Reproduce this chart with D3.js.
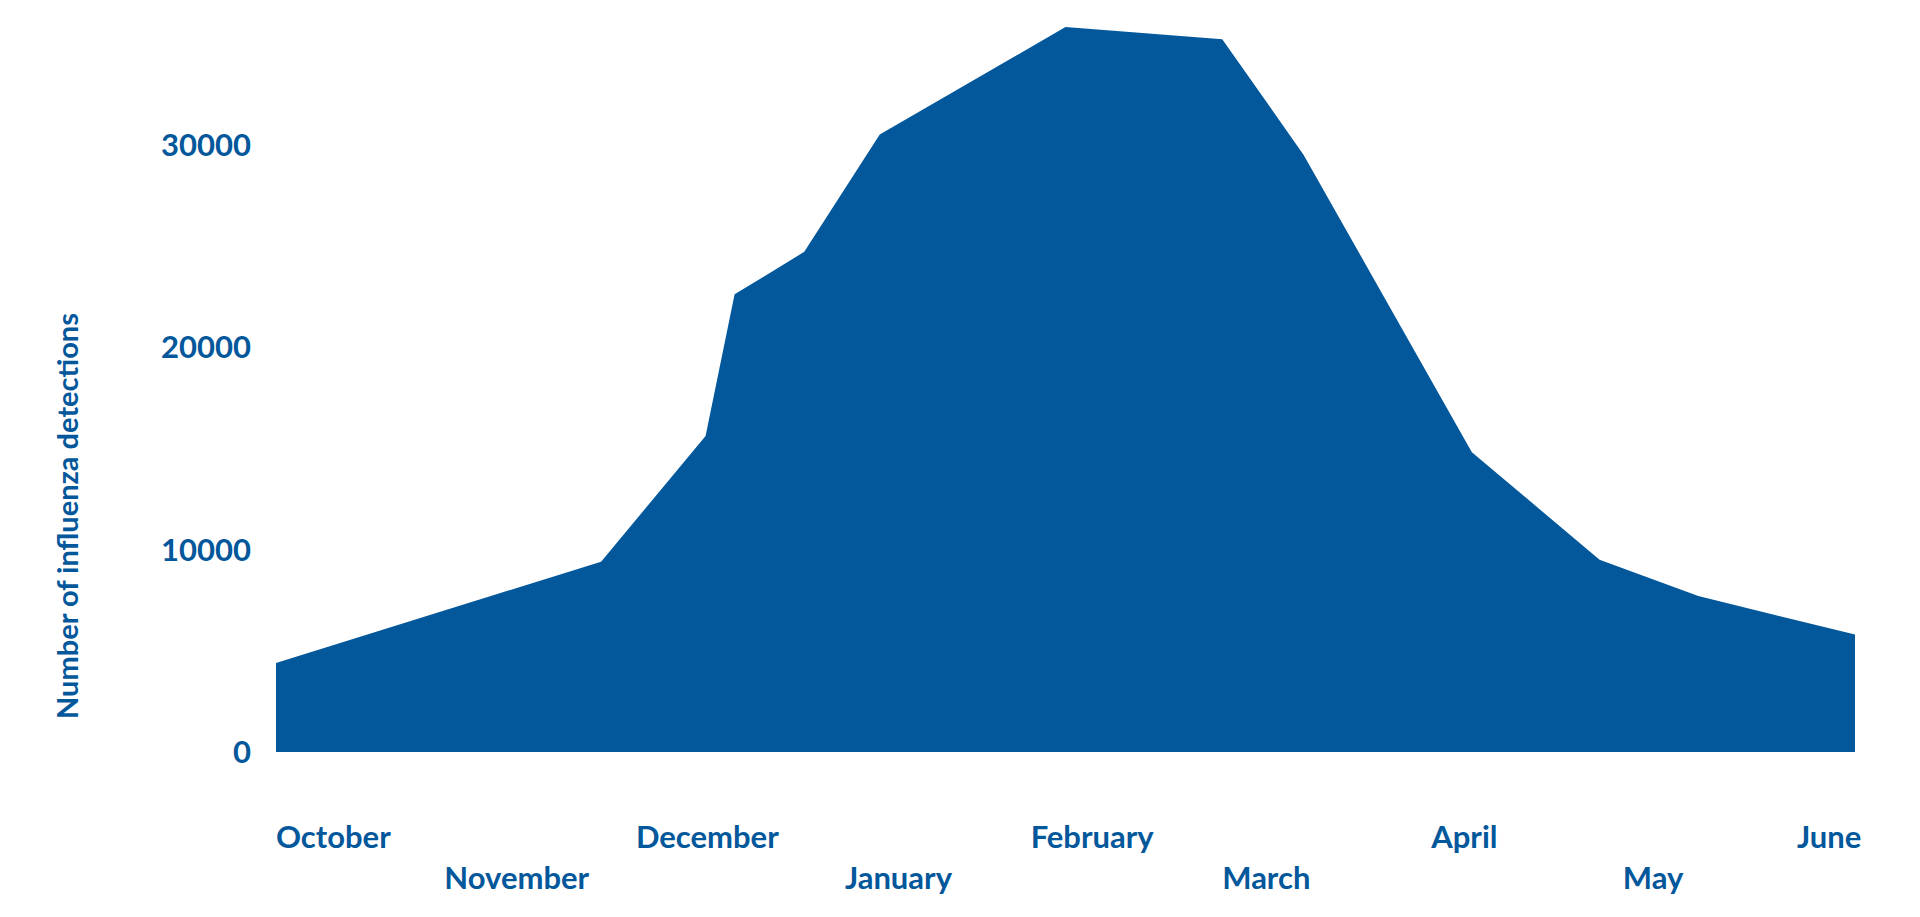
<!DOCTYPE html>
<html>
<head>
<meta charset="utf-8">
<script src="https://cdn.jsdelivr.net/npm/d3@7"></script>
<style>
  body { margin: 0; background: #fff; }
  text { font-family: Lato, "Open Sans", sans-serif; font-weight: 700; fill: #03579b; }
</style>
</head>
<body>
<svg id="chart" width="1920" height="917"></svg>
<script>
// days since 1 October, and detections
const days = [0, 56, 74, 79, 91, 104, 136, 163, 177, 206, 228, 245, 272];
const detections = [4400, 9400, 15600, 22600, 24700, 30500, 35800, 35200, 29500, 14800, 9500, 7700, 5800];

const months = ["October", "November", "December", "January", "February", "March", "April", "May", "June"];
const monthDays = [0, 29, 62, 98, 130, 163, 199, 232, 262];
const yTicks = [0, 10000, 20000, 30000];

const color = "#03579b";
const svg = d3.select("#chart");

const x = d3.scaleLinear().domain([0, 272]).range([276, 1855]);
const y = d3.scaleLinear().domain([0, 36000]).range([752, 23]);

const points = days.map((d, i) => ({ day: d, value: detections[i] }));

const area = d3.area()
  .x((d) => x(d.day))
  .y0(y(0))
  .y1((d) => y(d.value));

svg.append("path")
  .datum(points)
  .attr("fill", color)
  .attr("d", area);

// y axis labels
svg.append("g")
  .selectAll("text")
  .data(yTicks)
  .join("text")
  .attr("x", 251)
  .attr("y", (d) => y(d))
  .attr("dy", "0.36em")
  .attr("text-anchor", "end")
  .attr("font-size", 31)
  .text((d) => d);

svg.append("text")
  .attr("transform", `translate(68, ${y(0) - 236}) rotate(-90)`)
  .attr("text-anchor", "middle")
  .attr("dy", "0.36em")
  .attr("font-size", 29)
  .text("Number of influenza detections");

// month labels, staggered on two rows
svg.append("g")
  .selectAll("text")
  .data(months)
  .join("text")
  .attr("x", (d, i) => x(monthDays[i]))
  .attr("y", (d, i) => (i % 2 === 0 ? 837 : 878))
  .attr("dy", "0.36em")
  .attr("font-size", 31)
  .text((d) => d);
</script>
</body>
</html>
